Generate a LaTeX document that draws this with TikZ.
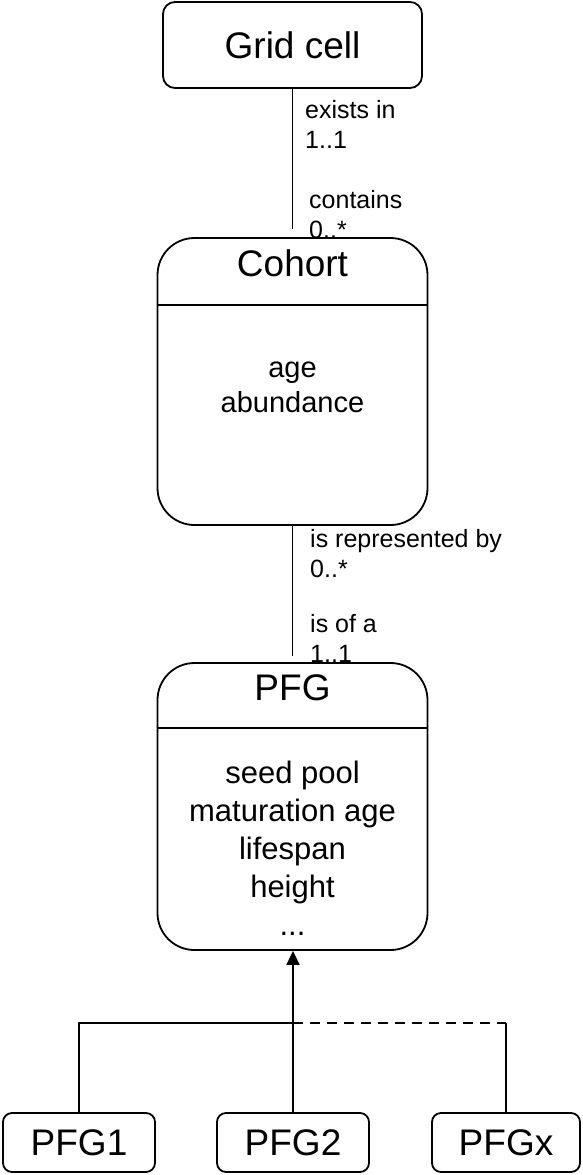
\documentclass[tikz,border=0pt]{standalone}
\usepackage{fontspec}
\setmainfont{Liberation Sans}
\usetikzlibrary{arrows.meta}
\begin{document}
\begin{tikzpicture}[x=1pt,y=-1pt,
  lw/.style={line width=1.8pt},
  rbox/.style={draw, lw, fill=white, rounded corners=#1, inner sep=0pt},
  titlef/.style={font=\fontsize{37}{44}\selectfont},
  ttl/.style={titlef, anchor=base, inner sep=0pt},
  bodyc/.style={font=\fontsize{29}{35}\selectfont, align=center, anchor=base, inner sep=0pt},
  bodyp/.style={font=\fontsize{31}{38}\selectfont, align=center, anchor=base, inner sep=0pt},
  lab/.style={font=\fontsize{25}{30}\selectfont, align=left, anchor=base west, inner sep=0pt}
]
\useasboundingbox (0,0) rectangle (583,1175);
% association labels (drawn first, boxes cover them); base = last line
\node[lab] (lab1) at (305,148) {exists in\\1..1};
\node[lab] (lab2) at (309,238) {contains\\0..*};
\node[lab] (lab3) at (310,577) {is represented by\\0..*};
\node[lab] (lab4) at (310,662) {is of a\\1..1};
% boxes
\node[rbox=12pt, minimum width=259pt, minimum height=86pt, titlef] (grid) at (292.5,45) {Grid cell};
\node[rbox=37pt, minimum width=270pt, minimum height=287pt] (cohort) at (292.5,381.5) {};
\node[ttl] (cohortT) at (292.5,276) {Cohort};
\draw[lw] (cohort.west |- 0,305) -- (cohort.east |- 0,305);
\node[bodyc] (cohortB) at (292.5,412) {age\\abundance};
\node[rbox=37pt, minimum width=270pt, minimum height=287pt] (pfg) at (292.5,806.5) {};
\node[ttl] (pfgT) at (292.5,700) {PFG};
\draw[lw] (pfg.west |- 0,728) -- (pfg.east |- 0,728);
\node[bodyp] (pfgB) at (292.5,935) {seed pool\\maturation age\\lifespan\\height\\...};
\node[rbox=9pt, minimum width=152pt, minimum height=59pt, titlef] (pfg1) at (79,1142.5) {PFG1};
\node[rbox=9pt, minimum width=152pt, minimum height=59pt, titlef] (pfg2) at (293,1142.5) {PFG2};
\node[rbox=9pt, minimum width=148pt, minimum height=59pt, titlef] (pfgx) at (506,1142.5) {PFGx};
% connectors
\draw[lw, shorten >=8pt] (grid.south) -- (cohort.north);
\draw[lw, shorten >=6pt] (cohort.south) -- (pfg.north);
\coordinate (junc) at (pfg2.north |- 0,1023);
\coordinate (rcorner) at (pfgx.north |- 0,1023);
\draw[lw] (pfg1.north) |- (junc);
\draw[lw, dash pattern=on 10pt off 7pt] (junc) -- (rcorner);
\draw[lw] (rcorner) -- (pfgx.north);
\draw[lw, -{Triangle[width=13pt,length=14pt]}] (pfg2.north) -- (pfg2.north |- pfg.south);
\end{tikzpicture}
\end{document}
